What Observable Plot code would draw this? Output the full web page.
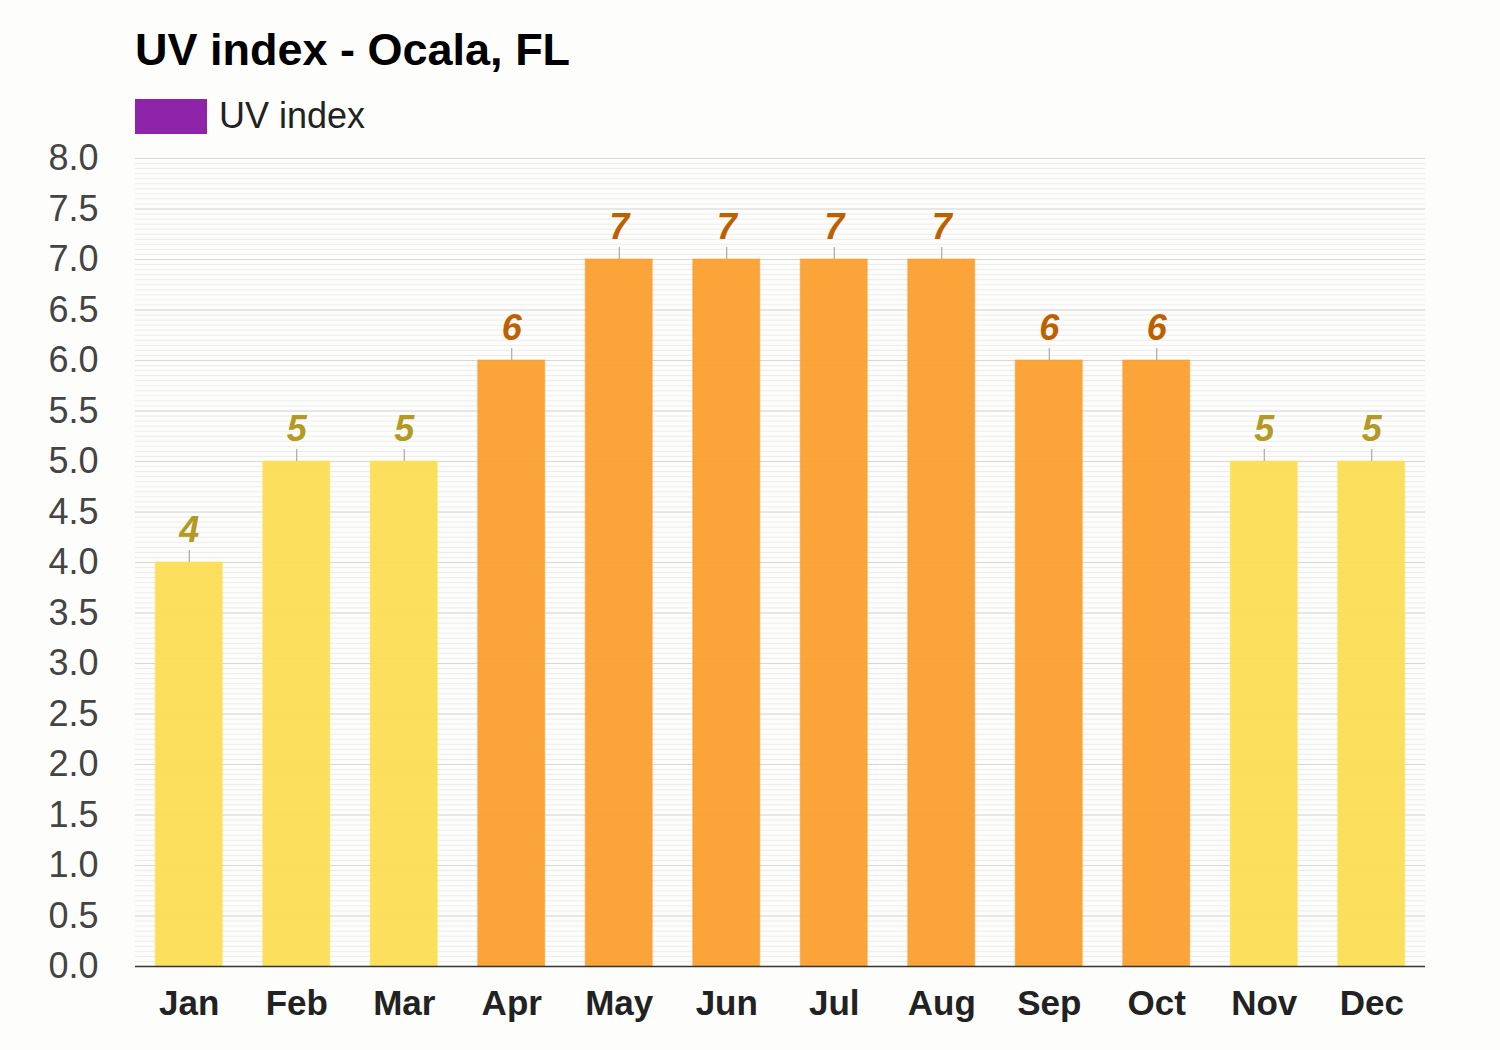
<!DOCTYPE html>
<html>
<head>
<meta charset="utf-8">
<script src="https://cdn.jsdelivr.net/npm/d3@7"></script>
<script src="https://cdn.jsdelivr.net/npm/@observablehq/plot@0.6"></script>
<style>
  html, body { margin: 0; padding: 0; background: #fdfefc; }
  body { width: 1500px; height: 1050px; font-family: "Liberation Sans", Arial, sans-serif; position: relative; overflow: hidden; }
  #title { position: absolute; left: 135px; top: 27px; font-size: 45px; font-weight: bold; color: #000; line-height: 1; }
  #legend { position: absolute; left: 135px; top: 95px; display: flex; align-items: center; }
  #legend .sw { width: 72px; height: 35px; background: #8e24aa; }
  #legend .lb { margin-left: 12px; font-size: 36px; color: #222; }
  #chart { position: absolute; left: 0; top: 120px; }
</style>
</head>
<body>
<div id="title">UV index - Ocala, FL</div>
<div id="legend"><div class="sw"></div><div class="lb">UV index</div></div>
<div id="chart"></div>
<script>
const months = ["Jan","Feb","Mar","Apr","May","Jun","Jul","Aug","Sep","Oct","Nov","Dec"];
const uvIndex = [4,5,5,6,7,7,7,7,6,6,5,5];
const yTicks = [0,0.5,1,1.5,2,2.5,3,3.5,4,4.5,5,5.5,6,6.5,7,7.5,8];
const minorTicks = d3.range(0, 161).map(i => i / 20);

const data = months.map((m, i) => ({month: m, uv: uvIndex[i]}));
const barFill = d => d.uv >= 6 ? "#fb9f2f" : "#fddd55";
const labelFill = d => d.uv >= 6 ? "#bd6100" : "#b39a22";

const chart = Plot.plot({
  width: 1500,
  height: 930,
  marginLeft: 135,
  marginRight: 75,
  marginTop: 38,
  marginBottom: 84,
  style: {background: "transparent", fontFamily: "'Liberation Sans', Arial, sans-serif", overflow: "visible"},
  x: {domain: months, paddingInner: 0.377, paddingOuter: 0.1885, round: false, label: null},
  y: {domain: [0, 8], label: null},
  marks: [
    Plot.ruleY(minorTicks, {stroke: "#ececec", strokeWidth: 1}),
    Plot.ruleY(yTicks, {stroke: "#d8d8d8", strokeWidth: 1}),
    Plot.barY(data, {x: "month", y: "uv", fill: barFill, fillOpacity: 0.95, stroke: barFill, strokeOpacity: 0.6}),
    Plot.ruleX(data, {x: "month", y1: "uv", y2: "uv", insetTop: -12, stroke: "#999", strokeWidth: 1}),
    Plot.text(data, {x: "month", y: "uv", text: d => String(d.uv), dy: -32, fill: labelFill, fontSize: 36, fontWeight: "bold", fontStyle: "italic"}),
    Plot.ruleY([0], {stroke: "#333", strokeWidth: 1.5}),
    Plot.axisY({ticks: yTicks, tickFormat: d => d.toFixed(1), tickSize: 0, tickPadding: 37, fontSize: 36, fill: "#444", label: null}),
    Plot.axisX({tickSize: 0, tickPadding: 24, fontSize: 35, fontWeight: "bold", fill: "#222", label: null})
  ]
});
document.getElementById("chart").appendChild(chart);
</script>
</body>
</html>
